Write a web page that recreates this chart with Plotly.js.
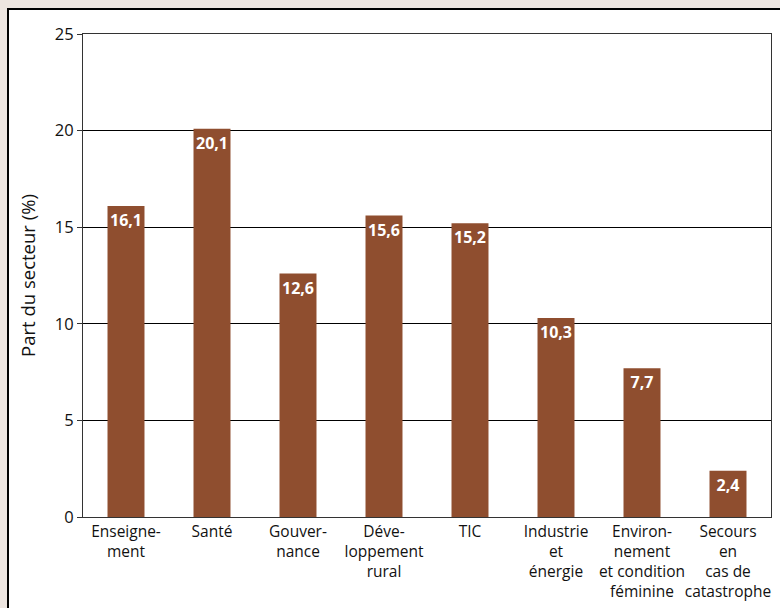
<!DOCTYPE html>
<html><head><meta charset="utf-8">
<script src="https://cdn.plot.ly/plotly-3.0.1.min.js"></script>
<style>html,body{margin:0;padding:0;background:#EDE5E0;}</style>
</head><body>
<div id="chart" style="width:780px;height:608px;"></div>
<script>
const categories = ["Enseigne-<br>ment", "Santé", "Gouver-<br>nance", "Déve-<br>loppement<br>rural", "TIC", "Industrie<br>et<br>énergie", "Environ-<br>nement<br>et condition<br>féminine", "Secours<br>en<br>cas de<br>catastrophe"];
const shares = [16.1, 20.1, 12.6, 15.6, 15.2, 10.3, 7.7, 2.4];
const yTicks = [0, 5, 10, 15, 20, 25];

const FONT = "'Open Sans', Lato, sans-serif";

const trace = {
  type: "bar",
  x: categories,
  y: shares,
  marker: {color: "#8F4E2F", line: {width: 0}},
  width: 0.43,
  texttemplate: "%{y:.1f}",
  textposition: "inside",
  insidetextanchor: "end",
  textangle: 0,
  constraintext: "none",
  textfont: {family: FONT, size: 16, color: "#ffffff", weight: "bold"},
  hoverinfo: "none"
};

const layout = {
  width: 780, height: 608,
  separators: ", ",
  paper_bgcolor: "#EDE5E0",
  plot_bgcolor: "#ffffff",
  margin: {l: 83, r: 9, t: 34, b: 91, pad: 0},
  font: {family: FONT, size: 16, color: "#111"},
  showlegend: false,
  bargap: 0.57,
  xaxis: {
    type: "category",
    tickangle: 0,
    showline: true, linecolor: "#333", linewidth: 1, mirror: true,
    ticks: "", showgrid: false, zeroline: false,
    tickfont: {family: FONT, size: 15.5, color: "#111"},
    fixedrange: true
  },
  yaxis: {
    range: [0, 25],
    tickvals: yTicks,
    ticks: "outside", ticklen: 5, tickcolor: "#333",
    showline: true, linecolor: "#333", linewidth: 1, mirror: true,
    showgrid: true, gridcolor: "#000", gridwidth: 1,
    zeroline: false,
    tickfont: {family: FONT, size: 16.5, color: "#111"},
    title: {text: "Part du secteur (%)", font: {family: FONT, size: 18.5, color: "#111"}, standoff: 14},
    fixedrange: true
  },
  shapes: [{
    type: "rect", xref: "paper", yref: "paper", layer: "below",
    x0: -0.109, x1: 1.05, y0: -0.25, y1: 1.0518,
    fillcolor: "#ffffff", line: {color: "#000", width: 2}
  }]
};

Plotly.newPlot("chart", [trace], layout, {displayModeBar: false, staticPlot: true});
</script>
</body></html>
